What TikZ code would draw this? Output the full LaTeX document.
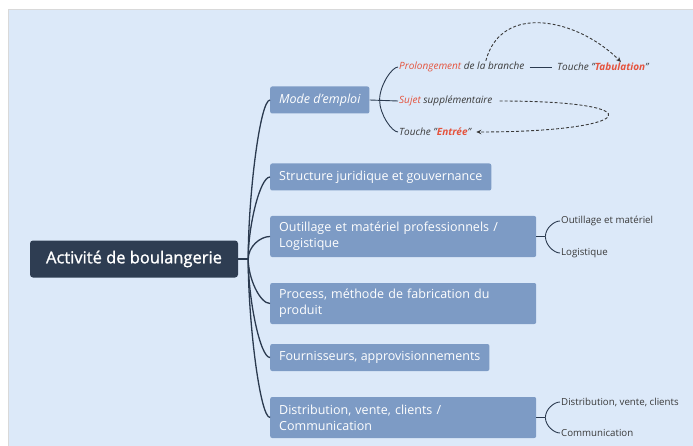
\documentclass[tikz,border=0pt]{standalone}
\usepackage{fontspec}
\setmainfont{Open Sans}
\newfontfamily\heavyfont[FakeBold=1.2]{Open Sans}
\usetikzlibrary{calc,arrows.meta}

\begin{document}
\begin{tikzpicture}[x=1pt,y=1pt,
  root/.style={fill=rootfill,text=white,rounded corners=3pt,
    font=\fontsize{16.5}{19}\heavyfont,minimum width=208pt,minimum height=37pt},
  topic/.style={fill=topicfill,text=white,rounded corners=2pt,anchor=west,
    font=\fontsize{12.5}{16}\selectfont,minimum height=27pt,inner xsep=9pt},
  twoline/.style={topic,text width=248pt,align=left,minimum height=41pt},
  note/.style={anchor=west,text=note,inner sep=1pt,
    font=\fontsize{10}{12}\selectfont\itshape},
  leaf/.style={anchor=west,text=note,inner sep=1pt,
    font=\fontsize{9.7}{12}\selectfont},
  branch/.style={out=#1,in=180,in distance=10pt},
  link/.style={draw=linecol,line width=1.3pt},
  sublink/.style={draw=linecol,line width=0.9pt},
  jump/.style={draw=note,line width=0.9pt,dash pattern=on 3pt off 2pt,
    -{Stealth[length=5pt,width=4.5pt]}}]
  \definecolor{panel}{HTML}{DCE9F9}
  \definecolor{rootfill}{HTML}{2E3D52}
  \definecolor{topicfill}{HTML}{7D9BC5}
  \definecolor{linecol}{HTML}{2B3A4F}
  \definecolor{note}{HTML}{3A3A3A}
  \definecolor{accent}{HTML}{E5533D}

  \useasboundingbox (0,0) rectangle (693,445);
  \fill [white] (0,0) rectangle (693,445);
  \filldraw [fill=panel,draw=black!15] (8,-1) rectangle (694,436);

  % main topic and its branches
  \node [root] (root) at (134,186) {Activité de boulangerie};
  \coordinate (J) at ($(root.east)+(10,0)$);

  \node [topic] (mode) at (270,345) {\itshape Mode d'emploi};
  \node [topic] (struct) at (270,268) {Structure juridique et gouvernance};
  \node [twoline] (outil) at (270,208.5)
    {Outillage et matériel professionnels /\\Logistique};
  \node [twoline] (process) at (270,141.5)
    {Process, méthode de fabrication du\\produit};
  \node [topic] (fourn) at (270,87.5) {Fournisseurs, approvisionnements};
  \node [twoline] (distrib) at (270,27.5)
    {Distribution, vente, clients /\\Communication};

  \draw [link] (root.east) -- (J);
  \foreach \child in {mode,struct,outil}
    \draw [link] (J) to [branch=90] (\child.west);
  \foreach \child in {process,fourn,distrib}
    \draw [link] (J) to [branch=-90] (\child.west);

  % mode d'emploi
  \node [note] (prolong) at (398,378)
    {\textcolor{accent}{Prolongement} de la branche};
  \node [note] (tab) at (556,378)
    {Touche "\textcolor{accent}{\bfseries Tabulation}"};
  \node [note] (sujet) at (398,344) {\textcolor{accent}{Sujet} supplémentaire};
  \node [note] (entree) at (398,313)
    {Touche "\textcolor{accent}{\bfseries Entrée}"};

  \coordinate (M) at ($(mode.east)+(10,0)$);
  \draw [sublink] (mode.east) -- (sujet.west);
  \draw [sublink] (M) to [branch=90,in distance=6pt] (prolong.west);
  \draw [sublink] (M) to [branch=-90,in distance=6pt] (entree.west);
  \draw [sublink,shorten <=4pt,shorten >=4pt] (prolong.east) -- (tab.west);

  \draw [jump] ([xshift=24pt]prolong.north)
    to [out=75,in=135,looseness=1.15] ([xshift=18pt]tab.north);
  \draw [jump,shorten <=6pt,shorten >=4pt] (sujet.east)
    to [out=0,in=0,out distance=165pt,in distance=165pt] (entree.east);

  % sub-topics
  \node [leaf] (outilA) at (560,224) {Outillage et matériel};
  \node [leaf] (outilB) at (560,192) {Logistique};
  \node [leaf] (distribA) at (560,43) {Distribution, vente, clients};
  \node [leaf] (distribB) at (560,12) {Communication};

  \coordinate (O) at ($(outil.east)+(9,0)$);
  \coordinate (D) at ($(distrib.east)+(9,0)$);
  \draw [sublink] (outil.east) -- (O);
  \draw [sublink] (distrib.east) -- (D);
  \foreach \from/\to in {O/outilA,D/distribA}
    \draw [sublink] (\from) to [branch=90,in distance=6pt] (\to.west);
  \foreach \from/\to in {O/outilB,D/distribB}
    \draw [sublink] (\from) to [branch=-90,in distance=6pt] (\to.west);
\end{tikzpicture}
\end{document}
